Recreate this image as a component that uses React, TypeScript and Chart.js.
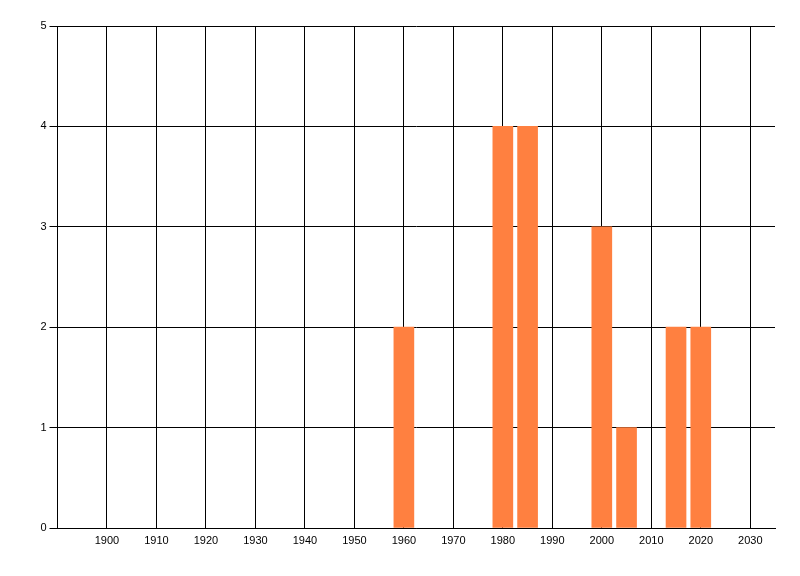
import React, { useEffect, useRef } from "react";
import { Chart, registerables } from "chart.js";

Chart.register(...registerables);

const years = [1960, 1980, 1985, 2000, 2005, 2015, 2020];
const counts = [2, 4, 4, 3, 1, 2, 2];
const xTickValues = [1900, 1910, 1920, 1930, 1940, 1950, 1960, 1970, 1980, 1990, 2000, 2010, 2020, 2030];
const xMin = 1890;
const xMax = 2035;
const yMax = 5;

export default function App() {
  const ref = useRef<HTMLCanvasElement | null>(null);

  useEffect(() => {
    document.body.style.margin = "0";
    const canvas = ref.current;
    if (!canvas) return;
    const font = { family: "'Liberation Sans', Arial, sans-serif", size: 11 };
    const chart = new Chart(canvas, {
      type: "bar",
      data: {
        datasets: [
          {
            data: years.map((y, i) => ({ x: y, y: counts[i] })),
            backgroundColor: "#FF8040",
            borderWidth: 0,
            barThickness: 20,
          },
        ],
      },
      options: {
        animation: false,
        responsive: false,
        maintainAspectRatio: false,
        layout: { padding: { top: 26, right: 25, left: 0, bottom: 0 } },
        plugins: { legend: { display: false }, tooltip: { enabled: false } },
        scales: {
          x: {
            type: "linear",
            min: xMin,
            max: xMax,
            offset: false,
            afterBuildTicks: (scale: any) => {
              scale.ticks = xTickValues.map((v) => ({ value: v }));
            },
            afterFit: (scale: any) => {
              scale.height = 48;
            },
            ticks: {
              stepSize: 10,
              includeBounds: false,
              autoSkip: false,
              maxRotation: 0,
              color: "#000",
              font,
              padding: 6,
              callback: (v: any) => String(v),
            },
            grid: { color: "#000", lineWidth: 1, drawTicks: false, offset: false },
            border: { color: "#000", width: 1 },
          },
          y: {
            min: 0,
            max: yMax,
            afterFit: (scale: any) => {
              scale.width = 57.5;
            },
            ticks: { stepSize: 1, color: "#000", font, padding: 3 },
            grid: { color: "#000", lineWidth: 1, tickLength: 8 },
            border: { color: "#000", width: 1 },
          },
        },
      },
    });
    return () => chart.destroy();
  }, []);

  return (
    <div style={{ position: "absolute", left: 0, top: 0, width: 800, height: 576, background: "#fff" }}>
      <canvas ref={ref} width={800} height={576} style={{ width: 800, height: 576, display: "block" }} />
    </div>
  );
}
